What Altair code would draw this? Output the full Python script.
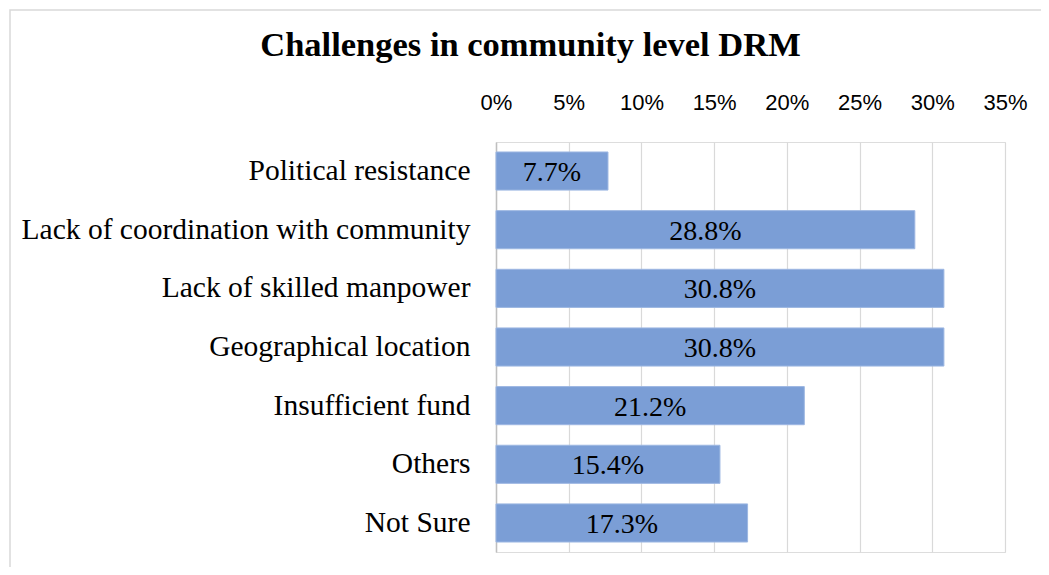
import altair as alt
import pandas as pd

categories = ["Political resistance", "Lack of coordination with community",
              "Lack of skilled manpower", "Geographical location",
              "Insufficient fund", "Others", "Not Sure"]
values = [7.7, 28.8, 30.8, 30.8, 21.2, 15.4, 17.3]
tick_values = [0, 0.05, 0.10, 0.15, 0.20, 0.25, 0.30, 0.35]

df = pd.DataFrame({"cat": categories, "val": [v / 100 for v in values]})

x = alt.X("val:Q", scale=alt.Scale(domain=[0, 0.35], nice=False),
          axis=alt.Axis(orient="top", format=".0%", values=tick_values,
                        title=None, ticks=False, domain=False, labelPadding=28,
                        labelFlush=False, labelOverlap=False,
                        labelFont="Liberation Sans", labelFontSize=22, labelColor="#000000",
                        gridColor="#d9d9d9", gridWidth=1.2))
y = alt.Y("cat:N", sort=categories,
          scale=alt.Scale(paddingInner=0.35, paddingOuter=0.17),
          axis=alt.Axis(title=None, ticks=False, domainColor="#bfbfbf", domainWidth=1.5,
                        labelFont="Liberation Serif", labelFontSize=29.5, labelColor="#000000",
                        labelPadding=26, labelLimit=700))

bars = alt.Chart(df).mark_bar(color="#7b9ed6", stroke="#9db7e2", strokeWidth=1).encode(x=x, y=y)

labels = alt.Chart(df).transform_calculate(mid="datum.val / 2").mark_text(
    font="Liberation Serif", fontSize=28, color="#000000", baseline="middle", align="center", dy=2
).encode(x=alt.X("mid:Q"), y=alt.Y("cat:N", sort=categories),
         text=alt.Text("val:Q", format=".1%"))

frame = alt.Chart(pd.DataFrame({"a": [0]})).mark_rect(
    fill=None, stroke="#d9d9d9", strokeWidth=1.5
).encode(x=alt.value(-486), x2=alt.value(600), y=alt.value(-132), y2=alt.value(600))

chart = alt.layer(frame, bars, labels).properties(
    width=509, height=410,
    title=alt.TitleParams("Challenges in community level DRM", font="Liberation Serif",
                          fontSize=34.5, fontWeight="bold", color="#000000",
                          anchor="middle", frame="group", dx=-220, dy=76, offset=22),
    autosize=alt.AutoSizeParams(type="none"),
    padding={"left": 488, "top": 134, "right": 36, "bottom": 15},
).configure_view(stroke=None).configure(background="#ffffff")

chart.save("out.html", embed_options={"renderer": "svg", "actions": False})
